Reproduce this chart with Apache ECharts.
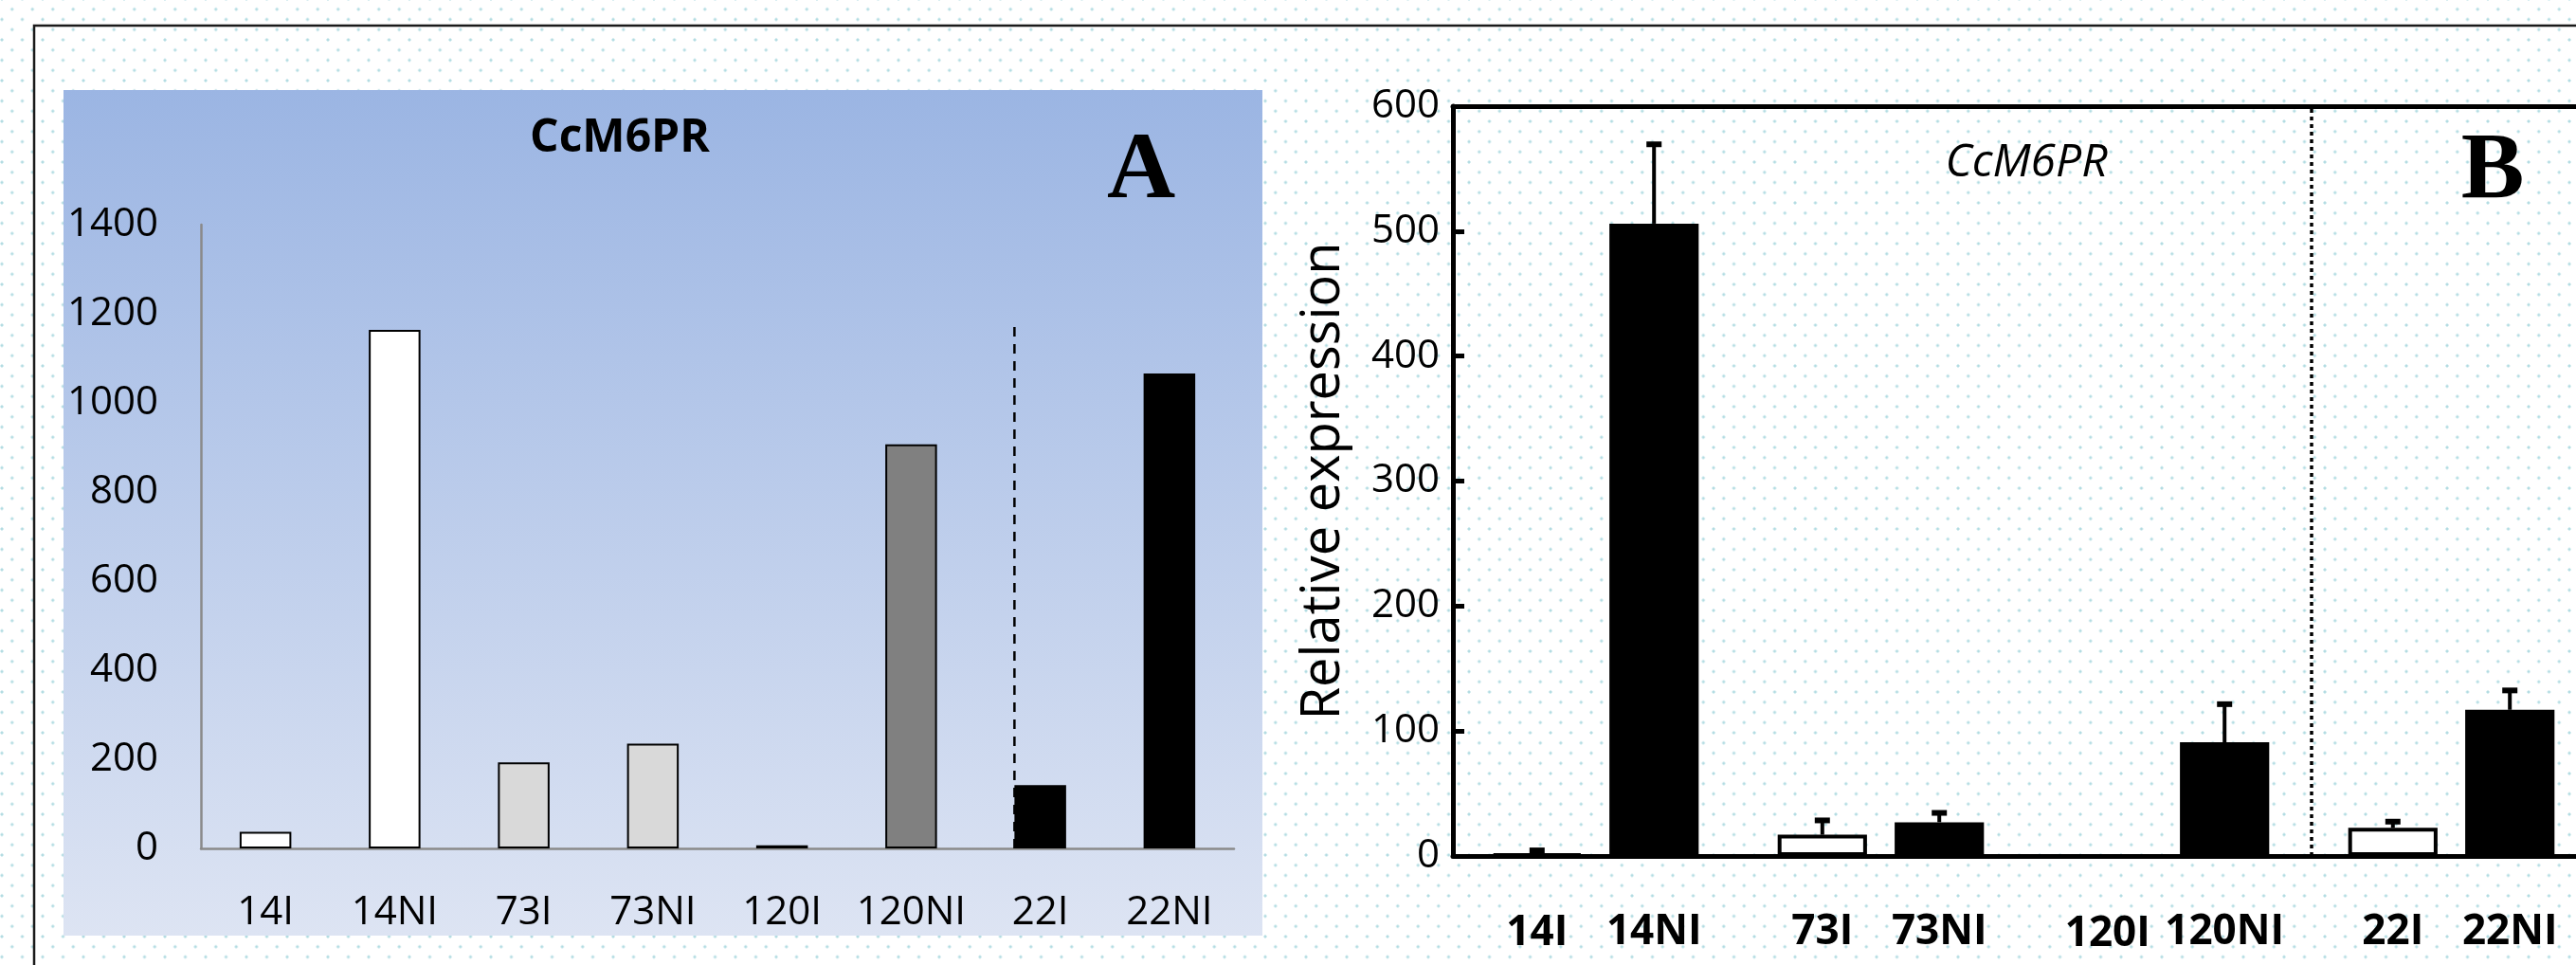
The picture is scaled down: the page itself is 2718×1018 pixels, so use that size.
<!DOCTYPE html>
<html>
<head>
<meta charset="utf-8">
<script src="https://cdn.jsdelivr.net/npm/echarts@6/dist/echarts.min.js"></script>
<style>
  html, body { margin: 0; padding: 0; background: #fff; }
  #chart {
    width: 2718px;
    height: 1018px;
    background-color: #fff;
    background-image:
      radial-gradient(circle, #b2dce2 1.3px, transparent 1.8px),
      radial-gradient(circle, #b2dce2 1.3px, transparent 1.8px);
    background-size: 21.5px 21.5px;
    background-position: 2px -1px, 12.75px 9.75px;
  }
</style>
</head>
<body>
<div id="chart"></div>
<script>
// panel A (single values)
var catsA = ["14I", "14NI", "73I", "73NI", "120I", "120NI", "22I", "22NI"];
var valsA = [37, 1164, 193, 235, 7, 907, 142, 1066];
var fillA = ["#ffffff", "#ffffff", "#d9d9d9", "#d9d9d9", "#808080", "#808080", "#000000", "#000000"];
var ticksA = { min: 0, max: 1400, step: 200 };
// dashed separator in A: x in category-band units, top value
var dividerA = [[6.3, 0], [6.3, 1170]];

// panel B (mean + upper error)
var groupsB = ["14", "73", "120", "22"];
var labelsI = ["14I", "73I", "120I", "22I"];
var labelsNI = ["14NI", "73NI", "120NI", "22NI"];
var meanI = [1.5, 17, 0, 22.5];
var errI = [4.5, 13, 0, 6.5];
var meanNI = [506, 27, 91, 117];
var errNI = [65, 9, 32, 17];
var ticksB = { min: 0, max: 600, step: 100 };
var dividerB = [[3.01, 0], [3.01, 600]];

var BAR_GAP = 0.31, CAT_GAP = 0.277;
var SANS = "'Open Sans', 'DejaVu Sans', sans-serif";
var SERIF = "'Liberation Serif', 'DejaVu Serif', serif";

var chart = echarts.init(document.getElementById("chart"), null, { renderer: "canvas" });

// error bar rows: [groupIndex, side(-1 = I, 1 = NI), mean, err]
var errRows = [];
groupsB.forEach(function (g, i) {
  if (errI[i] > 0) errRows.push([i, -1, meanI[i], errI[i]]);
  if (errNI[i] > 0) errRows.push([i, 1, meanNI[i], errNI[i]]);
});

function renderErr(params, api) {
  var idx = api.value(0), side = api.value(1), m = api.value(2), e = api.value(3);
  var band = api.size([1, 0])[0];
  var bw = band * (1 - CAT_GAP) / (2 + BAR_GAP);
  var off = side * bw * (1 + BAR_GAP) / 2;
  var base = api.coord([idx, m]);
  var tip = api.coord([idx, m + e]);
  var x = base[0] + off;
  return {
    type: "group",
    children: [
      { type: "line", shape: { x1: x, y1: base[1], x2: x, y2: tip[1] }, style: { stroke: "#000", lineWidth: 4 } },
      { type: "rect", shape: { x: x - 8, y: tip[1] - 1, width: 16, height: 6 }, style: { fill: "#000" } }
    ]
  };
}

var option = {
  animation: false,
  backgroundColor: "transparent",
  graphic: [
    {
      type: "rect", z: -10,
      shape: { x: 67, y: 95, width: 1265, height: 892 },
      style: {
        fill: new echarts.graphic.LinearGradient(0, 0, 0, 1, [
          { offset: 0, color: "#9bb5e3" },
          { offset: 1, color: "#dde4f3" }
        ])
      }
    },
    {
      type: "rect", z: 100,
      shape: { x: 36, y: 27, width: 2800, height: 1100 },
      style: { fill: null, stroke: "#1a1a1a", lineWidth: 2.5 }
    },
    { type: "text", x: 654, y: 146, style: { text: "CcM6PR", font: "bold 48px " + SANS, fill: "#000", textAlign: "center", textVerticalAlign: "middle" } },
    { type: "text", x: 1204, y: 182, style: { text: "A", font: "bold 100px " + SERIF, fill: "#000", textAlign: "center", textVerticalAlign: "middle" } },
    { type: "text", x: 2138, y: 172, style: { text: "CcM6PR", font: "italic 48px " + SANS, fill: "#000", textAlign: "center", textVerticalAlign: "middle" } },
    { type: "text", x: 2630, y: 182, style: { text: "B", font: "bold 100px " + SERIF, fill: "#000", textAlign: "center", textVerticalAlign: "middle" } }
  ],
  grid: [
    { left: 212, top: 237, width: 1090, height: 658, outerBoundsMode: "none" },
    { left: 1533, top: 112, width: 1204, height: 791, outerBoundsMode: "none" }
  ],
  xAxis: [
    {
      type: "category", gridIndex: 0, data: catsA, position: "bottom",
      axisLine: { lineStyle: { color: "#8a8a8a", width: 2.5 } },
      axisTick: { show: false },
      axisLabel: { interval: 0, color: "#000", fontSize: 42, fontFamily: SANS, margin: 47 }
    },
    {
      type: "category", gridIndex: 1, data: groupsB, position: "bottom",
      axisLine: { lineStyle: { color: "#000", width: 5 } },
      axisTick: { show: false },
      axisLabel: { show: false }
    },
    {
      type: "category", gridIndex: 1, data: groupsB, position: "top",
      axisLine: { lineStyle: { color: "#000", width: 5 } },
      axisTick: { show: false },
      axisLabel: { show: false }
    },
    { type: "value", gridIndex: 0, min: 0, max: catsA.length, show: false },
    { type: "value", gridIndex: 1, min: 0, max: groupsB.length, show: false }
  ],
  yAxis: [
    {
      type: "value", gridIndex: 0, min: ticksA.min, max: ticksA.max, interval: ticksA.step,
      axisLine: { show: true, lineStyle: { color: "#8a8a8a", width: 2.5 } },
      axisTick: { show: false },
      splitLine: { show: false },
      axisLabel: { color: "#000", fontSize: 42, fontFamily: SANS, margin: 45, formatter: function (v) { return String(v); } }
    },
    {
      type: "value", gridIndex: 1, min: ticksB.min, max: ticksB.max, interval: ticksB.step,
      name: "Relative expression", nameLocation: "middle", nameGap: 108,
      nameTextStyle: { color: "#000", fontSize: 56, fontFamily: SANS },
      axisLine: { show: true, lineStyle: { color: "#000", width: 5 } },
      axisTick: { show: true, inside: true, length: 12, lineStyle: { color: "#000", width: 5 } },
      splitLine: { show: false },
      axisLabel: { color: "#000", fontSize: 42, fontFamily: SANS, margin: 14, formatter: function (v) { return String(v); } }
    }
  ],
  series: [
    {
      type: "bar", xAxisIndex: 0, yAxisIndex: 0, barCategoryGap: "60%",
      data: valsA.map(function (v, i) {
        return { value: v, itemStyle: { color: fillA[i], borderColor: "#000", borderWidth: 2 } };
      })
    },
    {
      type: "line", xAxisIndex: 3, yAxisIndex: 0, data: dividerA, symbol: "none",
      lineStyle: { color: "#000", width: 2.5, type: [10, 8] }, z: 5
    },
    {
      name: "I", type: "bar", xAxisIndex: 1, yAxisIndex: 1,
      barGap: (BAR_GAP * 100) + "%", barCategoryGap: (CAT_GAP * 100) + "%",
      data: meanI,
      itemStyle: { color: "#fff", borderColor: "#000", borderWidth: 4 },
      label: {
        show: true, position: "bottom", distance: 58,
        formatter: function (p) { return labelsI[p.dataIndex]; },
        color: "#000", fontSize: 44, fontWeight: "bold", fontFamily: SANS
      }
    },
    {
      name: "NI", type: "bar", xAxisIndex: 1, yAxisIndex: 1,
      barGap: (BAR_GAP * 100) + "%", barCategoryGap: (CAT_GAP * 100) + "%",
      data: meanNI,
      itemStyle: { color: "#000", borderColor: "#000", borderWidth: 4 },
      label: {
        show: true, position: "bottom", distance: 58,
        formatter: function (p) { return labelsNI[p.dataIndex]; },
        color: "#000", fontSize: 44, fontWeight: "bold", fontFamily: SANS
      }
    },
    {
      type: "custom", xAxisIndex: 1, yAxisIndex: 1, renderItem: renderErr,
      data: errRows, encode: { x: 0, y: 2 }, z: 10
    },
    {
      type: "line", xAxisIndex: 4, yAxisIndex: 1, data: dividerB, symbol: "none",
      lineStyle: { color: "#000", width: 3.5, type: [4, 4] }, z: 5
    }
  ]
};

chart.setOption(option);
</script>
</body>
</html>
